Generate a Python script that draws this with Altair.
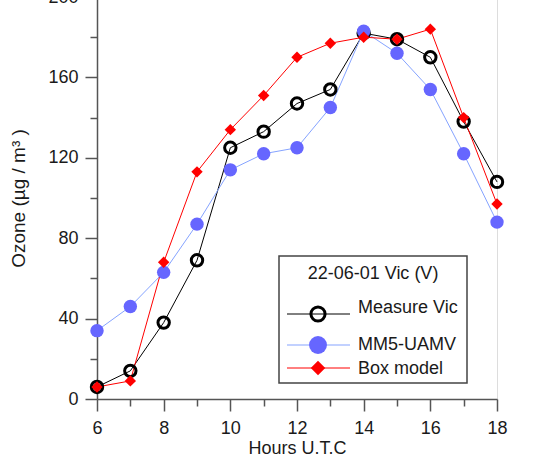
import altair as alt
import pandas as pd

hours = list(range(6, 19))
measure_vic = [6, 14, 38, 69, 125, 133, 147, 154, 182, 179, 170, 138, 108]
mm5_uamv = [34, 46, 63, 87, 114, 122, 125, 145, 183, 172, 154, 122, 88]
box_model = [6, 9, 68, 113, 134, 151, 170, 177, 180, 179, 184, 140, 97]

y_major = [0, 40, 80, 120, 160, 200]
y_minor = [20, 60, 100, 140, 180]
x_major = [6, 8, 10, 12, 14, 16, 18]
x_minor = [7, 9, 11, 13, 15, 17]

legend_title = "22-06-01 Vic (V)"
series_names = ["Measure Vic", "MM5-UAMV", "Box model"]

FONT = "Liberation Sans"
AX = "#555555"
TXT = "#1a1a1a"

df = pd.DataFrame({"hour": hours, "Measure Vic": measure_vic,
                   "MM5-UAMV": mm5_uamv, "Box model": box_model})
long = df.melt("hour", var_name="series", value_name="ozone")

xscale = alt.Scale(domain=[6, 18], nice=False, zero=False)
yscale = alt.Scale(domain=[0, 200], nice=False)


def X(axis):
    return alt.X("hour:Q", scale=xscale, axis=axis)


def Y(axis):
    return alt.Y("ozone:Q", scale=yscale, axis=axis)


base = alt.Chart(long)

x_main = alt.Axis(orient="bottom", values=x_major, tickSize=12, tickWidth=1.5, tickColor=AX,
                  domainColor=AX, domainWidth=1.5, labelFont=FONT, labelFontSize=18,
                  labelColor=TXT, labelPadding=8, title="Hours U.T.C", titleFont=FONT,
                  titleFontSize=18, titleFontWeight="normal", titleColor=TXT,
                  titlePadding=2, grid=False, labelFlush=False)
y_main = alt.Axis(orient="left", values=y_major, tickSize=12, tickWidth=1.5, tickColor=AX,
                  domainColor=AX, domainWidth=1.5, labelFont=FONT, labelFontSize=18,
                  labelColor=TXT, labelPadding=7, title="Ozone (µg / m³ )", titleFont=FONT,
                  titleFontSize=19, titleFontWeight="normal", titleColor=TXT,
                  titlePadding=19, grid=False, labelFlush=False)
x_min = alt.Axis(orient="bottom", values=x_minor, tickSize=7, tickWidth=1.5, tickColor=AX,
                 domain=False, labels=False, title=None, grid=False)
y_min = alt.Axis(orient="left", values=y_minor, tickSize=7, tickWidth=1.5, tickColor=AX,
                 domain=False, labels=False, title=None, grid=False)

axis_main = base.mark_point(opacity=0).encode(x=X(x_main), y=Y(y_main))
axis_minor = base.mark_point(opacity=0).encode(x=X(x_min), y=Y(y_min))

blk = base.transform_filter(alt.datum.series == "Measure Vic")
blu = base.transform_filter(alt.datum.series == "MM5-UAMV")
red = base.transform_filter(alt.datum.series == "Box model")

blk_line = blk.mark_line(color="black", strokeWidth=1).encode(x=X(None), y=Y(None))
blk_pt = blk.mark_point(shape="circle", filled=False, color="black", strokeWidth=3,
                        size=130, opacity=1).encode(x=X(None), y=Y(None))
blu_line = blu.mark_line(color="#85a3ff", strokeWidth=1).encode(x=X(None), y=Y(None))
blu_pt = blu.mark_circle(color="#6666ff", size=180, opacity=1).encode(x=X(None), y=Y(None))
red_line = red.mark_line(color="#ff0000", strokeWidth=1).encode(x=X(None), y=Y(None))
red_pt = red.mark_point(shape="diamond", filled=True, color="#ff0000", size=130,
                        opacity=1).encode(x=X(None), y=Y(None))

# legend (pixel placement inside the plot area)
one = alt.Chart(pd.DataFrame({"k": [0]}))
leg_box = one.mark_rect(fill="white", stroke="#444444", strokeWidth=1.5).encode(
    x=alt.value(182), x2=alt.value(370), y=alt.value(259), y2=alt.value(386))
leg_title = one.mark_text(font=FONT, fontSize=18, color=TXT, align="center",
                          baseline="middle").encode(
    x=alt.value(276), y=alt.value(277), text=alt.value(legend_title))

leg_layers = [leg_box, leg_title]
styles = [
    dict(line="black", y=317, ty=311,
         mark=dict(shape="circle", filled=False, color="black", strokeWidth=3, size=200)),
    dict(line="#85a3ff", y=348, ty=348,
         mark=dict(shape="circle", filled=True, color="#6666ff", size=320, strokeWidth=0)),
    dict(line="#ff0000", y=371, ty=372,
         mark=dict(shape="diamond", filled=True, color="#ff0000", size=210, strokeWidth=0)),
]
for name, st in zip(series_names, styles):
    leg_layers.append(one.mark_rule(color=st["line"], strokeWidth=1).encode(
        x=alt.value(190), x2=alt.value(253), y=alt.value(st["y"])))
    leg_layers.append(one.mark_point(opacity=1, **st["mark"]).encode(
        x=alt.value(221), y=alt.value(st["y"])))
    leg_layers.append(one.mark_text(font=FONT, fontSize=18, color=TXT, align="left",
                                    baseline="middle").encode(
        x=alt.value(261), y=alt.value(st["ty"]), text=alt.value(name)))

chart = alt.layer(
    axis_main, axis_minor,
    blk_line, blu_line, red_line, blk_pt, blu_pt, red_pt,
    *leg_layers
).resolve_axis(x="independent", y="independent").properties(
    width=400, height=402,
    autosize=alt.AutoSizeParams(type="none"),
    padding={"left": 97, "top": -3, "right": 47, "bottom": 64},
).configure_view(stroke=None).configure(background="white")

chart.save("out.html", embed_options={"renderer": "svg", "actions": False})
